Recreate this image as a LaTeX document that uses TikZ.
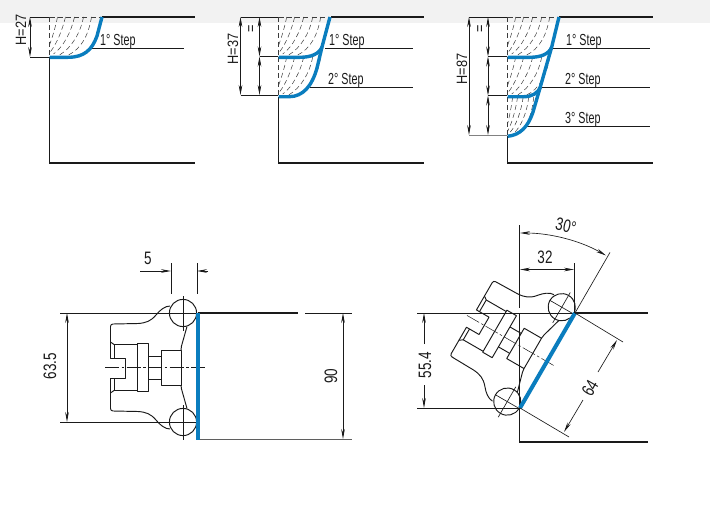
\documentclass[tikz,border=0pt]{standalone}
\usepackage{fontspec}
\setmainfont[FakeStretch=0.75]{Liberation Sans}
\newfontfamily\stepfont[FakeStretch=0.67]{Liberation Sans}
\newfontfamily\heightfont[FakeStretch=0.85]{Liberation Sans}
\usetikzlibrary{arrows.meta}
\definecolor{bluecut}{HTML}{0A7DBE}
\definecolor{band}{HTML}{F2F2F2}
\definecolor{ink}{HTML}{1A1A1A}
\tikzset{
  thinline/.style={line width=.65pt,draw=ink},
  edgeline/.style={line width=1.2pt,draw=ink},
  cutline/.style={line width=3.4pt,draw=bluecut,line join=round,line cap=butt},
  dimline/.style={line width=.65pt,draw=ink,{Stealth[length=10pt,width=3.6pt]}-{Stealth[length=10pt,width=3.6pt]}},
  arrowend/.style={line width=.65pt,draw=ink,-{Stealth[length=10pt,width=3.6pt]}},
  hatchline/.style={line width=.5pt,draw=ink!85,dash pattern=on 5pt off 3.2pt},
  steplabel/.style={font=\stepfont\fontsize{16}{17}\selectfont,text=ink,inner sep=0pt},
  dimlabel/.style={font=\fontsize{18}{19}\selectfont,text=ink,inner sep=0pt},
  smalllabel/.style={font=\heightfont\fontsize{15}{16}\selectfont,text=ink,inner sep=0pt},
  bodyline/.style={line width=.95pt,draw=ink,line join=round},
  centerline/.style={line width=.5pt,draw=ink,dash pattern=on 14pt off 2.5pt on 2.5pt off 2.5pt}
}
\newcommand{\hatchfan}[4]{% x0, ytop, xscale, hscale
 \begin{scope}[shift={(#1,#2)},xscale=#3,yscale=#4]
  \draw[hatchline] (0,0)--(0,40);
  \draw[hatchline] (8,0) .. controls (6,10) and (3,20) .. (0,28);
  \draw[hatchline] (16,0) .. controls (13,12) and (8,26) .. (0,36);
  \draw[hatchline] (25,0) .. controls (22,14) and (14,30) .. (4,37);
  \draw[hatchline] (34,0) .. controls (31,16) and (22,31) .. (10,38);
  \draw[hatchline] (42,0) .. controls (39,18) and (32,32) .. (18,38.5);
 \end{scope}}
\newcommand{\fixture}{%
  \draw[bodyline] (183,313) circle (13.6);
  \draw[bodyline] (183,422) circle (13.6);
  \draw[thinline] (183,296)--(183,331);
  \draw[thinline] (183,405)--(183,440);
  \draw[thinline] (169,313)--(197,313);
  \draw[thinline] (169,422)--(197,422);
  \draw[bodyline] (170,306) .. controls (165,306) and (160,310) .. (156,315)
     .. controls (151,321) and (146,323) .. (138,323.5) -- (113,324)
     .. controls (111.5,324) and (110.5,325) .. (110.5,326.5) -- (110.5,342) -- (114,344.5)
     -- (137,344.5);
  \draw[bodyline] (170,429) .. controls (165,429) and (160,425) .. (156,420)
     .. controls (151,414) and (146,412) .. (138,411.5) -- (113,411)
     .. controls (111.5,411) and (110.5,410) .. (110.5,408.5) -- (110.5,393) -- (114,390.5)
     -- (137,390.5);
  \draw[bodyline] (110.5,342)--(110.5,358)--(125,358)--(125,378)--(110.5,378)--(110.5,393);
  \draw[bodyline] (114,344.5)--(114,358) (114,378)--(114,390.5);
  \draw[bodyline] (137,343) rectangle (148,391.5);
  \draw[bodyline] (148,356)--(161,356) (148,379)--(161,379);
  \draw[bodyline] (161,350) rectangle (181,385);
  \draw[bodyline] (187,326.5) -- (181.5,346) -- (181,350);
  \draw[bodyline] (187,408.5) -- (181.5,389) -- (181,385);
  \draw[centerline] (105,367.5)--(206,367.5);
}
\begin{document}
\begin{tikzpicture}[x=1pt,y=-1pt]
\useasboundingbox (0,0) rectangle (710,514);
\fill[band] (0,0) rectangle (710,23);

% ---- panel 1
\hatchfan{49.5}{17}{1}{1}
\draw[hatchline] (49.5,17)--(100,17);
\draw[edgeline] (49.5,57)--(49.5,163)--(195,163);
\draw[edgeline] (102,17)--(195,17);
\draw[thinline] (92,48)--(184,48);
\draw[cutline] (49.5,57.3)--(68,57.3) .. controls (84,57.3) and (92,50) .. (97,36) -- (102,17);
\draw[thinline] (30,17)--(49,17) (30,57)--(49,57);
\draw[dimline] (30,17)--(30,57);
\node[steplabel,anchor=west] (stepA) at (100,41.5) {1° Step};
\node[smalllabel,rotate=90] (heightA) at (21,30) {H=27};

% ---- panel 2
\hatchfan{278.7}{17}{1}{1}
\hatchfan{278.7}{57}{1}{1}
\draw[hatchline] (278.7,17)--(329,17);
\draw[edgeline] (278.7,97)--(278.7,163)--(424,163);
\draw[edgeline] (331,17)--(424,17);
\draw[thinline] (325,48)--(413,48) (310,87.5)--(413,87.5);
\draw[cutline] (278.7,57.3)--(300,57.3) .. controls (311,57.3) and (319,54) .. (322,47);
\draw[cutline] (330,17)--(322,47)--(317,68) .. controls (312,86) and (303,96.7) .. (289,96.7) -- (278.7,96.7);
\draw[thinline] (240.5,17)--(278,17) (240.5,95)--(278,95) (259.5,56.5)--(278,56.5);
\draw[dimline] (240.5,17)--(240.5,95);
\draw[dimline] (259.5,17)--(259.5,56.5);
\draw[dimline] (259.5,56.5)--(259.5,95);
\node[steplabel,anchor=west] (stepB) at (329,41.5) {1° Step};
\node[steplabel,anchor=west] (stepC) at (328,80.5) {2° Step};
\node[smalllabel,rotate=90] (heightB) at (233,49) {H=37};
\node[smalllabel,rotate=90] (equalB) at (252,29) {=};

% ---- panel 3
\hatchfan{507.7}{17}{1}{1}
\hatchfan{507.7}{57}{1}{1}
\hatchfan{507.7}{97}{.62}{.95}
\draw[hatchline] (507.7,17)--(557,17);
\draw[edgeline] (507.7,136)--(507.7,163)--(653,163);
\draw[edgeline] (559,17)--(653,17);
\draw[thinline] (553,48)--(650,48) (542,87.5)--(650,87.5) (527,126.5)--(650,126.5);
\draw[cutline] (507.7,57.3)--(530,57.3) .. controls (541,57.3) and (549,54) .. (551.7,47);
\draw[cutline] (507.7,96.7)--(524,96.7) .. controls (532,96.7) and (538,93) .. (540.5,87);
\draw[cutline] (559,17)--(551.7,47)--(540,88)--(533,112) .. controls (528,127) and (520,135) .. (507.7,136.3);
\draw[thinline] (469,17)--(507,17) (488,56.5)--(507,56.5) (488,95.5)--(507,95.5);
\draw[line width=.9pt,draw=ink!55] (469,135)--(507,135);
\draw[dimline] (469,17)--(469,135);
\draw[dimline] (488,17)--(488,56.5);
\draw[dimline] (488,56.5)--(488,95.5);
\draw[dimline] (488,95.5)--(488,135);
\node[steplabel,anchor=west] (stepD) at (566,41.5) {1° Step};
\node[steplabel,anchor=west] (stepE) at (565,80.5) {2° Step};
\node[steplabel,anchor=west] (stepF) at (565,119.5) {3° Step};
\node[smalllabel,rotate=90] (heightC) at (462,69) {H=87};
\node[smalllabel,rotate=90] (equalC) at (481,29) {=};

% ---- lower left
\fixture
\draw[edgeline] (198,313)--(298,313);
\draw[thinline] (305,313)--(352,313);
\draw[line width=.8pt,draw=ink!70] (198,439)--(352,439);
\draw[thinline] (60,313)--(170,313) (60,422)--(170,422);
\draw[cutline,line width=4pt] (198,312.5)--(198,439.5);
\draw[dimline] (67,313)--(67,422);
\draw[dimline] (343,313)--(343,439);
\draw[thinline] (171,263)--(171,294) (197,263)--(197,294);
\draw[arrowend] (140,271)--(171,271);
\draw[arrowend] (208,271)--(197,271);
\node[dimlabel,rotate=90] (dimA) at (50,366) {63.5};
\node[dimlabel,rotate=90] (dimB) at (331,376) {90};
\node[dimlabel] (dimC) at (148,258) {5};

% ---- lower right
\begin{scope}[shift={(534.5,354.4)},rotate=-30,shift={(-183,-367.5)}]
 \fixture
\end{scope}
\draw[thinline] (519.7,225)--(519.7,308);
\draw[edgeline] (519.7,313)--(519.7,442)--(648,442);
\draw[edgeline] (575,313)--(648,313);
\draw[thinline] (417,313)--(575,313) (417,408)--(520,408);
\draw[cutline,line width=4pt] (575,313)--(520,408);
\draw[arrowend] (424,344)--(424,313);
\draw[arrowend] (424,385)--(424,408);
\node[dimlabel,rotate=90] (dimD) at (425,365) {55.4};
\draw[thinline] (574,263)--(574,313);
\draw[dimline] (520,269.5)--(574,269.5);
\node[dimlabel] (dimE) at (545,257) {32};
\draw[thinline] (575,313)--(610,252.4);
\draw[dimline] (520,233) .. controls (550.7,233) and (580.9,241) .. (606,255.5);
\draw[thinline] (575,313)--(623,342) (520,408)--(569,437);
\draw[arrowend] (583,400)--(564,432);
\draw[arrowend] (598,372)--(617,340);
\node[dimlabel,rotate=60] (dimF) at (590,388) {64};
\node[dimlabel,rotate=-12] (dimG) at (566,226) {30°};
\end{tikzpicture}
\end{document}
